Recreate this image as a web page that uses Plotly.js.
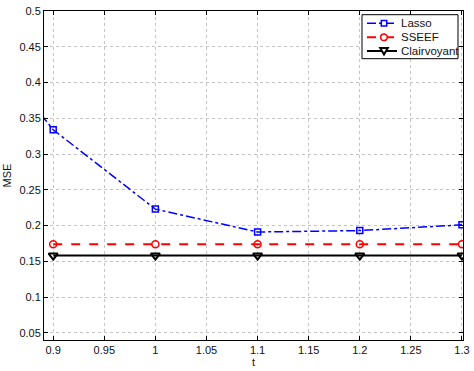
<!DOCTYPE html>
<html><head><meta charset="utf-8">
<script src="https://cdn.plot.ly/plotly-3.0.1.min.js"></script>
<style>body{margin:0;background:#fff}#c{width:474px;height:371px}</style>
</head><body><div id="c"></div>
<script>
const tLasso = [0.8, 0.9, 1.0, 1.1, 1.2, 1.3];
const mseLasso = [0.512, 0.334, 0.223, 0.191, 0.193, 0.201];
const tFixed = [0.9, 1.0, 1.1, 1.2, 1.3];
const mseSSEEF = [0.174, 0.174, 0.174, 0.174, 0.174];
const mseClair = [0.158, 0.158, 0.158, 0.158, 0.158];
const xTicks = [0.9, 0.95, 1, 1.05, 1.1, 1.15, 1.2, 1.25, 1.3];
const yTicks = [0.05, 0.1, 0.15, 0.2, 0.25, 0.3, 0.35, 0.4, 0.45, 0.5];
const seriesNames = ['Lasso', 'SSEEF', 'Clairvoyant'];

const BLUE = '#0000ff', RED = '#ff0000', BLACK = '#000000';
const traces = [
  {x: tLasso, y: mseLasso, name: seriesNames[0], mode: 'lines+markers',
   line: {color: BLUE, dash: 'dashdot', width: 1.5},
   marker: {symbol: 'square-open', size: 6, color: BLUE, line: {width: 1.5}}},
  {x: tFixed, y: mseSSEEF, name: seriesNames[1], mode: 'lines+markers',
   line: {color: RED, dash: 'dash', width: 2},
   marker: {symbol: 'circle-open', size: 7, color: RED, line: {width: 1.5}}},
  {x: tFixed, y: mseClair, name: seriesNames[2], mode: 'lines+markers',
   line: {color: BLACK, width: 2},
   marker: {symbol: 'triangle-down-open', size: 8, color: BLACK, line: {width: 2}}}
];

// plot-area pixel geometry
const L = 44, R = 463, T = 11, B = 340;
const px = x => (x - L) / (R - L);
const py = y => (B - y) / (B - T);

const shapes = [
  {type: 'rect', xref: 'paper', yref: 'paper', x0: px(362), x1: px(458), y0: py(58.7), y1: py(14.7),
   line: {color: '#000', width: 1}, fillcolor: '#fff'}
];
const annotations = [];
const rows = [23.3, 37.3, 51];
const styles = [
  {color: BLUE, dash: 'dashdot', width: 1.5},
  {color: RED, dash: 'dash', width: 2},
  {color: BLACK, dash: 'solid', width: 2}
];
rows.forEach((ry, i) => {
  shapes.push({type: 'line', xref: 'paper', yref: 'paper', x0: px(367), x1: px(397), y0: py(ry), y1: py(ry),
    line: styles[i]});
  const cx = 384;
  if (i === 0) {
    shapes.push({type: 'rect', xref: 'paper', yref: 'paper', x0: px(cx - 2.7), x1: px(cx + 2.7),
      y0: py(ry + 2.7), y1: py(ry - 2.7), line: {color: BLUE, width: 1.5}, fillcolor: '#fff'});
  } else if (i === 1) {
    shapes.push({type: 'circle', xref: 'paper', yref: 'paper', x0: px(cx - 3.3), x1: px(cx + 3.3),
      y0: py(ry + 3.3), y1: py(ry - 3.3), line: {color: RED, width: 1.5}, fillcolor: '#fff'});
  } else {
    const p = `M${px(cx - 3.8)},${py(ry - 3)} L${px(cx + 3.8)},${py(ry - 3)} L${px(cx)},${py(ry + 3.5)} Z`;
    shapes.push({type: 'path', xref: 'paper', yref: 'paper', path: p,
      line: {color: BLACK, width: 2}, fillcolor: '#fff'});
  }
  annotations.push({xref: 'paper', yref: 'paper', x: px(399), y: py(ry), xanchor: 'left', yanchor: 'middle',
    text: seriesNames[i], showarrow: false, font: {size: 11.5, color: '#111'}});
});

const axisCommon = {showline: true, linecolor: '#000', linewidth: 1, mirror: 'ticks',
  ticks: 'inside', ticklen: 4, tickcolor: '#000', zeroline: false,
  showgrid: true, gridcolor: '#c4c4c4', griddash: 'dot', gridwidth: 1,
  tickfont: {size: 11, color: '#111'}};

const layout = {
  width: 474, height: 371,
  margin: {l: L, r: 474 - R, t: T, b: 371 - B},
  paper_bgcolor: '#fff', plot_bgcolor: '#fff',
  font: {family: 'Liberation Sans, Arial, sans-serif', size: 11, color: '#111'},
  showlegend: false,
  shapes: shapes,
  annotations: annotations,
  xaxis: Object.assign({}, axisCommon, {range: [0.891, 1.301], tickvals: xTicks,
    ticktext: xTicks.map(String),
    title: {text: 't', standoff: 1, font: {size: 11}}}),
  yaxis: Object.assign({}, axisCommon, {range: [0.04, 0.5], tickvals: yTicks,
    ticktext: yTicks.map(String),
    title: {text: 'MSE', standoff: 5, font: {size: 11}}})
};
Plotly.newPlot('c', traces, layout, {displayModeBar: false, staticPlot: true});
</script></body></html>
